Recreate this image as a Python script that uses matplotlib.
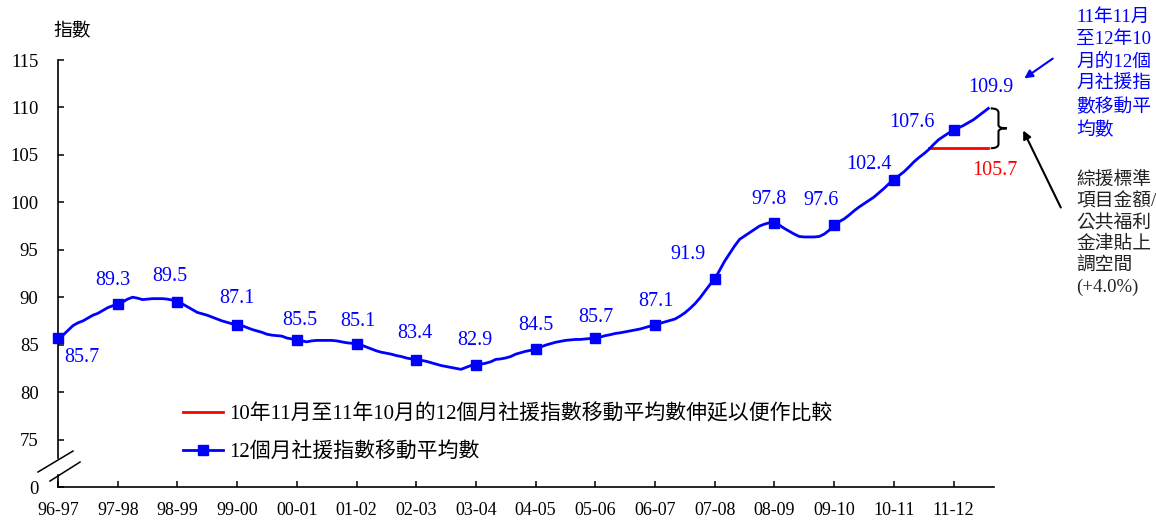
import numpy as np
import matplotlib.pyplot as plt
from matplotlib.lines import Line2D
from matplotlib.path import Path
from matplotlib.patches import PathPatch

plt.rcParams['font.family'] = ['Liberation Serif', 'Noto Sans CJK TC']

# fiscal years on the x axis
years = ['96-97', '97-98', '98-99', '99-00', '00-01', '01-02', '02-03', '03-04',
         '04-05', '05-06', '06-07', '07-08', '08-09', '09-10', '10-11', '11-12']

# 12-month moving average of the CSSA index, one value per month
index_monthly = [
    85.7, 86.0, 86.5, 87.0, 87.3, 87.5, 87.8, 88.1, 88.3, 88.6, 88.9, 89.1,        # 96-97
    89.3, 89.5, 89.8, 90.0, 89.9, 89.75, 89.8, 89.85, 89.85, 89.85, 89.8, 89.7,   # 97-98
    89.5, 89.3, 89.0, 88.7, 88.4, 88.25, 88.1, 87.9, 87.7, 87.5, 87.35, 87.2,     # 98-99
    87.1, 87.0, 86.8, 86.6, 86.45, 86.3, 86.1, 86.0, 85.95, 85.9, 85.7, 85.6,     # 99-00
    85.5, 85.4, 85.3, 85.4, 85.45, 85.45, 85.45, 85.45, 85.4, 85.3, 85.2, 85.15,  # 00-01
    85.1, 84.95, 84.75, 84.55, 84.35, 84.2, 84.1, 84.0, 83.85, 83.75, 83.6, 83.5, # 01-02
    83.4, 83.35, 83.25, 83.1, 82.95, 82.8, 82.7, 82.6, 82.5, 82.4, 82.6, 82.8,    # 02-03
    82.9, 82.95, 83.05, 83.2, 83.45, 83.5, 83.6, 83.75, 84.0, 84.15, 84.3, 84.4,  # 03-04
    84.5, 84.75, 84.95, 85.1, 85.25, 85.35, 85.45, 85.5, 85.55, 85.55, 85.6, 85.65,  # 04-05
    85.7, 85.8, 85.95, 86.05, 86.18, 86.25, 86.35, 86.45, 86.55, 86.65, 86.8, 86.95,  # 05-06
    87.1, 87.25, 87.4, 87.55, 87.7, 88.0, 88.35, 88.8, 89.3, 89.9, 90.6, 91.3,    # 06-07
    91.9, 92.85, 93.8, 94.6, 95.4, 96.1, 96.45, 96.8, 97.15, 97.5, 97.7, 97.85,   # 07-08
    97.8, 97.6, 97.25, 96.95, 96.65, 96.4, 96.35, 96.35, 96.35, 96.4, 96.65, 97.05,  # 08-09
    97.6, 97.95, 98.25, 98.65, 99.1, 99.5, 99.85, 100.2, 100.55, 101.0, 101.45, 101.95,  # 09-10
    102.4, 102.8, 103.2, 103.7, 104.24, 104.7, 105.1, 105.55, 106.1, 106.6, 106.95, 107.3,  # 10-11
    107.6, 107.85, 108.1, 108.4, 108.7, 109.1, 109.5, 109.9,                        # 11-12
]

# values printed at the yearly markers
year_values = [85.7, 89.3, 89.5, 87.1, 85.5, 85.1, 83.4, 82.9,
               84.5, 85.7, 87.1, 91.9, 97.8, 97.6, 102.4, 107.6]
latest_value = 109.9
baseline_value = 105.7        # 10年11月至11年10月 average, extended
baseline_start_month = 175

# label offsets from each marker, in pixels
label_offsets = [(24, -19), (-5, 23), (-8, 25), (0, 26), (3, 19), (1, 22), (-1, 26), (-1, 24),
                 (0, 24), (1, 21), (1, 23), (-27, 25), (-5, 24), (-13, 25), (-25, 15), (-42, 8)]

W, H = 1156, 521
fig = plt.figure(figsize=(W / 100, H / 100), dpi=100)
ax = fig.add_axes([58 / W, 34 / H, 936 / W, 427 / H])

months = np.arange(len(index_monthly)) / 12
end_x = months[-1]

blue = '#0000FF'
red = '#FF0000'

ax.plot(months, index_monthly, color=blue, lw=2, marker='s', markersize=7,
        markevery=12, clip_on=False, zorder=3)
ax.plot([baseline_start_month / 12, end_x], [baseline_value, baseline_value],
        color=red, lw=2, zorder=2)

for i, v in enumerate(year_values):
    ax.annotate(f'{v:.1f}', (i, v), xytext=label_offsets[i], textcoords='offset pixels',
                ha='center', va='center', color=blue, fontsize=14.5)
ax.annotate(f'{latest_value:.1f}', (end_x, latest_value), xytext=(3, 21),
            textcoords='offset pixels', ha='center', va='center', color=blue, fontsize=14.5)
ax.annotate(f'{baseline_value:.1f}', (end_x, baseline_value), xytext=(7, -22),
            textcoords='offset pixels', ha='center', va='center', color=red, fontsize=14.5)

# brace between the two line ends
bx, stem, tip = end_x + 0.04, end_x + 0.17, end_x + 0.31
ymid = (latest_value + baseline_value) / 2
verts = [(bx, latest_value), (stem, latest_value), (stem, latest_value - 0.45),
         (stem, ymid + 0.35), (stem, ymid), (tip, ymid),
         (stem, ymid), (stem, ymid - 0.35),
         (stem, baseline_value + 0.45), (stem, baseline_value), (bx, baseline_value)]
codes = [Path.MOVETO, Path.CURVE3, Path.CURVE3, Path.LINETO, Path.CURVE3, Path.CURVE3,
         Path.CURVE3, Path.CURVE3, Path.LINETO, Path.CURVE3, Path.CURVE3]
ax.add_patch(PathPatch(Path(verts, codes), facecolor='none', edgecolor='black',
                       lw=1.5, clip_on=False))

# axes styling
ax.set_xlim(0, 936 / 59.7)
ax.set_ylim(70, 115)
ax.set_xticks(range(len(years)))
ax.set_xticklabels(years)
ax.set_yticks(range(70, 116, 5))
ax.set_yticklabels(['0'] + [str(v) for v in range(75, 116, 5)])
ax.tick_params(axis='both', direction='in', length=4, width=1.1, labelsize=13.5)
ax.tick_params(axis='x', pad=11, labelsize=13)
ax.tick_params(axis='y', pad=14)
for s in ['top', 'right']:
    ax.spines[s].set_visible(False)
ax.spines['bottom'].set_linewidth(1.2)
ax.spines['left'].set_linewidth(1.2)
ax.spines['left'].set_bounds(73.05, 115)
ax.plot([0, 0], [70, 71.26], color='black', lw=1.2, clip_on=False)
# axis break marks
ax.plot([-0.335, 0.251], [71.58, 73.79], color='black', lw=1.1, clip_on=False)
ax.plot([-0.134, 0.369], [70.63, 72.63], color='black', lw=1.1, clip_on=False)

fig.text(72 / W, 1 - 32 / H, '指數', ha='center', va='center', fontsize=13.5)

handles = [Line2D([], [], color=red, lw=2),
           Line2D([], [], color=blue, lw=2, marker='s', markersize=7)]
labels = ['10年11月至11年10月的12個月社援指數移動平均數伸延以便作比較',
          '12個月社援指數移動平均數']
ax.legend(handles, labels, loc='upper left', bbox_to_anchor=(183 / W, 1 - 404 / H),
          bbox_transform=fig.transFigure, frameon=False, fontsize=15,
          handlelength=1.9, handletextpad=0.3, labelspacing=0.85,
          borderpad=0, borderaxespad=0)

# right-side notes
fig.text(1076 / W, 1 - 9 / H, '11年11月\n至12年10\n月的12個\n月社援指\n數移動平\n均數',
         ha='left', va='top', color=blue, fontsize=13.5, linespacing=1.4)
fig.text(1076 / W, 1 - 172 / H, '綜援標準\n項目金額/\n公共福利\n金津貼上\n調空間\n(+4.0%)',
         ha='left', va='top', color='#222222', fontsize=13.5, linespacing=1.3)
ax.annotate('', xy=(1022 / W, 1 - 80 / H), xycoords='figure fraction',
            xytext=(1055 / W, 1 - 57 / H), textcoords='figure fraction',
            arrowprops=dict(arrowstyle='-|>', color=blue, lw=1.5, mutation_scale=12),
            annotation_clip=False)
ax.annotate('', xy=(1022 / W, 1 - 128 / H), xycoords='figure fraction',
            xytext=(1062 / W, 1 - 210 / H), textcoords='figure fraction',
            arrowprops=dict(arrowstyle='-|>', color='black', lw=1.5, mutation_scale=12),
            annotation_clip=False)

fig.savefig('out.png', dpi=100)
